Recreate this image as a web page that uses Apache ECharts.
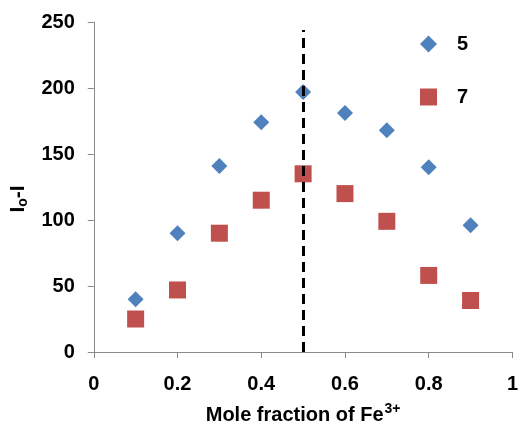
<!DOCTYPE html>
<html><head><meta charset="utf-8">
<script src="https://cdn.jsdelivr.net/npm/echarts@6/dist/echarts.min.js"></script>
<style>html,body{margin:0;padding:0;background:#fff;overflow:hidden}#c{width:521px;height:430px}</style>
</head><body><div id="c"></div>
<script>
const xValues = [0.1, 0.2, 0.3, 0.4, 0.5, 0.6, 0.7, 0.8, 0.9];
const series5 = [40, 90, 141, 174, 197, 181, 168, 140, 96];
const series7 = [25, 47, 90, 115, 135, 120, 99, 58, 39];
const seriesNames = ['5', '7'];
const jobX = 0.5;

const font = 'Liberation Sans, Arial, sans-serif';
const chart = echarts.init(document.getElementById('c'), null, {renderer: 'canvas'});
chart.setOption({
  animation: false,
  textStyle: {fontFamily: font},
  grid: {left: 93, right: 6, top: 22, bottom: 74, containLabel: false},
  legend: {
    orient: 'vertical', left: 415, top: 29, itemGap: 33,
    itemWidth: 17, itemHeight: 17,
    textStyle: {fontFamily: font, fontWeight: 'bold', fontSize: 20, color: '#000', padding: [4, 0, 0, 15]},
    data: [{name: seriesNames[0], icon: 'diamond'}, {name: seriesNames[1], icon: 'rect'}]
  },
  xAxis: {
    type: 'value', min: 0, max: 1, interval: 0.2,
    name: 'Mole fraction of Fe{sup|3+}', nameLocation: 'middle', nameGap: 50,
    nameTextStyle: {fontFamily: font, fontWeight: 'bold', fontSize: 20, color: '#000',
      rich: {sup: {fontFamily: font, fontWeight: 'bold', fontSize: 14, color: '#000', verticalAlign: 'top', padding: [0, 0, 12, 1]}}},
    axisLine: {lineStyle: {color: '#898989', width: 1}},
    axisTick: {show: true, length: 6, lineStyle: {color: '#898989'}},
    splitLine: {show: false},
    axisLabel: {margin: 22, fontFamily: font, fontWeight: 'bold', fontSize: 20, color: '#000',
      formatter: v => (v === 0 || v === 1) ? String(v) : v.toFixed(1)}
  },
  yAxis: {
    type: 'value', min: 0, max: 250, interval: 50,
    name: 'I{sub|o}-I', nameLocation: 'middle', nameGap: 62, nameRotate: 90,
    nameTextStyle: {fontFamily: font, fontWeight: 'bold', fontSize: 21, color: '#000', padding: [0, 24, 0, 0],
      rich: {sub: {fontFamily: font, fontWeight: 'bold', fontSize: 14, color: '#000', padding: [10, 0, 0, 0]}}},
    axisLine: {show: true, lineStyle: {color: '#898989', width: 1}},
    axisTick: {show: true, length: 6, lineStyle: {color: '#898989'}},
    splitLine: {show: false},
    axisLabel: {margin: 19, fontFamily: font, fontWeight: 'bold', fontSize: 20, color: '#000'}
  },
  series: [
    {name: seriesNames[0], type: 'scatter', symbol: 'diamond', symbolSize: 16,
     itemStyle: {color: '#4F81BD', opacity: 1},
     data: xValues.map((x, i) => [x, series5[i]]),
     markLine: {silent: true, symbol: 'none', label: {show: false},
       lineStyle: {color: '#000', width: 3, type: [10, 6], opacity: 1},
       data: [[{coord: [jobX, 0]}, {coord: [jobX, 244]}]]}},
    {name: seriesNames[1], type: 'scatter', symbol: 'rect', symbolSize: 17,
     itemStyle: {color: '#C0504D', opacity: 1},
     data: xValues.map((x, i) => [x, series7[i]])}
  ]
});
</script></body></html>
